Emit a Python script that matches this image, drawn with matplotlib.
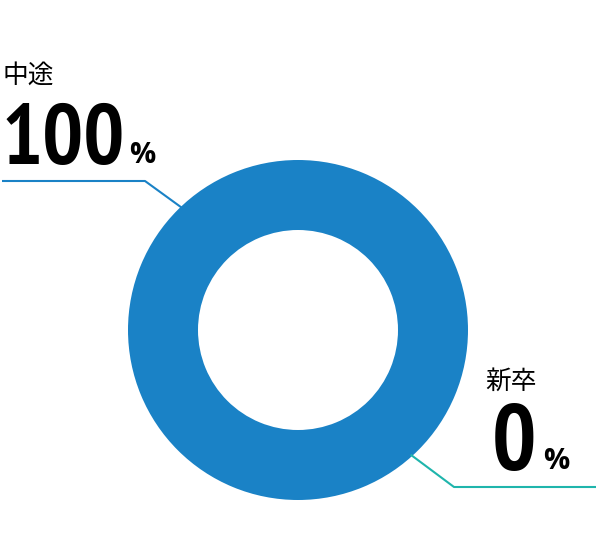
import numpy as np
import matplotlib
matplotlib.use("Agg")
import matplotlib.pyplot as plt

plt.rcParams['font.family'] = ['Noto Sans CJK JP', 'DejaVu Sans']

# data
categories = ['中途', '新卒']
values = [100, 0]
colors = ['#1a82c6', '#1fb5ac']

fig = plt.figure(figsize=(5.97, 5.34), dpi=100)
ax = fig.add_axes([0, 0, 1, 1])

cx, cy = 298, 330   # pixel coords (y down)
r_out, r_in = 170, 100

ax.pie(values, colors=colors, radius=r_out, center=(cx, cy), startangle=90,
       counterclock=False, wedgeprops=dict(width=r_out - r_in, edgecolor='none'))
ax.set_xlim(0, 597)
ax.set_ylim(534, 0)
ax.set_aspect('equal')
ax.axis('off')

num_font = ['PT Sans Narrow', 'DejaVu Sans']
pct_font = ['Open Sans', 'DejaVu Sans']

# leader lines, start at the ring's outer edge
def edge(angle_deg):
    a = np.deg2rad(angle_deg)
    return cx + (r_out - 2) * np.cos(a), cy - (r_out - 2) * np.sin(a)

x0, y0 = edge(133.5)
ax.plot([x0, 145, 2], [y0, 181, 181], color=colors[0], lw=1.5, solid_capstyle='butt')
x1, y1 = edge(-47.9)
ax.plot([x1, 454, 596], [y1, 487, 487], color=colors[1], lw=1.5, solid_capstyle='butt')

# labels
ax.text(3, 76, categories[0], fontsize=18.5, va='center', ha='left', color='black')
ax.text(2, 164, f'{values[0]}', fontsize=62, fontweight='bold', family=num_font,
        va='baseline', ha='left', color='black')
ax.text(129, 163, '%', fontsize=21, fontweight='bold', family=pct_font,
        va='baseline', ha='left', color='black')

ax.text(485, 382, categories[1], fontsize=18.5, va='center', ha='left', color='black')
ax.text(492, 470, f'{values[1]}', fontsize=67, fontweight='bold', family=num_font,
        va='baseline', ha='left', color='black')
ax.text(543, 469, '%', fontsize=21, fontweight='bold', family=pct_font,
        va='baseline', ha='left', color='black')

fig.savefig('out.png', dpi=100)
